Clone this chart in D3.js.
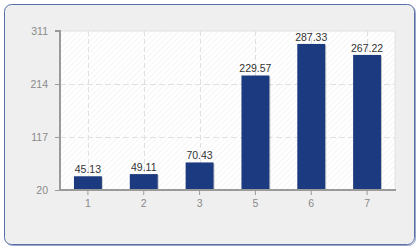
<!DOCTYPE html>
<html><head><meta charset="utf-8">
<script src="https://cdn.jsdelivr.net/npm/d3@7"></script>
<style>html,body{margin:0;padding:0;background:#fff;}svg{display:block;}</style>
</head><body>
<svg id="c" width="420" height="250"></svg>
<script>
const categories = ["1","2","3","5","6","7"];
const values = [45.13, 49.11, 70.43, 229.57, 287.33, 267.22];
const yTicks = [20, 117, 214, 311];

const svg = d3.select("#c");
const font = "'Liberation Sans', Arial, sans-serif";
const defs = svg.append("defs");
const pat = defs.append("pattern").attr("id","hatch").attr("patternUnits","userSpaceOnUse")
  .attr("width",4).attr("height",4).attr("patternTransform","rotate(45)");
pat.append("rect").attr("width",4).attr("height",4).attr("fill","#ffffff");
pat.append("line").attr("x1",0).attr("y1",0).attr("x2",0).attr("y2",4).attr("stroke","#efefef").attr("stroke-width",1.2);

// frame
svg.append("rect").attr("x",5.5).attr("y",5.5).attr("width",410).attr("height",240).attr("rx",7)
  .attr("fill","none").attr("stroke","#9aa6c8").attr("stroke-width",1);
svg.append("rect").attr("x",4.5).attr("y",4.5).attr("width",410).attr("height",240).attr("rx",7)
  .attr("fill","#efefef").attr("stroke","#5a6ea8").attr("stroke-width",1);

const m = {l:60, t:31, r:395, b:190};
const x = d3.scaleBand().domain(categories).range([m.l, m.r]).padding(0);
const y = d3.scaleLinear().domain([20, 311]).range([m.b, m.t]);

svg.append("rect").attr("x",m.l).attr("y",m.t).attr("width",m.r-m.l).attr("height",m.b-m.t)
  .attr("fill","url(#hatch)").attr("stroke","#e2e2e2").attr("stroke-width",1);

// grid
svg.append("g").selectAll("line").data(yTicks.slice(1,3)).join("line")
  .attr("x1",m.l).attr("x2",m.r).attr("y1",d=>Math.round(y(d))+0.5).attr("y2",d=>Math.round(y(d))+0.5)
  .attr("stroke","#e0e0e0").attr("stroke-dasharray","6,3");
svg.append("g").selectAll("line").data(categories).join("line")
  .attr("x1",d=>Math.round(x(d)+x.bandwidth()/2)+0.5).attr("x2",d=>Math.round(x(d)+x.bandwidth()/2)+0.5)
  .attr("y1",m.t).attr("y2",m.b)
  .attr("stroke","#e0e0e0").attr("stroke-dasharray","5,3");

// bars
const bw = x.bandwidth()*0.5;
svg.append("g").selectAll("rect").data(values).join("rect")
  .attr("x",(d,i)=>x(categories[i])+x.bandwidth()/2-bw/2+1).attr("y",d=>y(d)+1)
  .attr("width",bw).attr("height",d=>m.b-y(d)-1).attr("fill","#555").attr("opacity",0.3);
svg.append("g").selectAll("rect").data(values).join("rect")
  .attr("x",(d,i)=>x(categories[i])+x.bandwidth()/2-bw/2).attr("y",d=>y(d))
  .attr("width",bw).attr("height",d=>m.b-y(d)).attr("fill","#1b3a7f");

// value labels
svg.append("g").selectAll("text").data(values).join("text")
  .attr("x",(d,i)=>x(categories[i])+x.bandwidth()/2).attr("y",d=>y(d)-3)
  .attr("text-anchor","middle").attr("font-family",font).attr("font-size",10.5)
  .attr("fill","#333").text(d=>d.toFixed(2));

// axes
const ya = svg.append("g").attr("transform",`translate(${m.l},0)`)
  .call(d3.axisLeft(y).tickValues(yTicks).tickSize(5).tickPadding(7).tickFormat(d3.format("d")));
const xa = svg.append("g").attr("transform",`translate(0,${m.b})`)
  .call(d3.axisBottom(x).tickSize(5).tickPadding(5));
[ya,xa].forEach(a=>{
  a.select(".domain").attr("stroke","#9a9a9a").attr("stroke-width",2);
  a.selectAll(".tick line").attr("stroke","#9a9a9a");
  a.selectAll("text").attr("fill","#8a8a8a").attr("font-family",font).attr("font-size",10.5);
});
ya.select(".domain").attr("d",`M-5,${m.t}H0V${m.b}`);
xa.select(".domain").attr("d",`M${m.l},0H${m.r+1}`);
</script>
</body></html>
